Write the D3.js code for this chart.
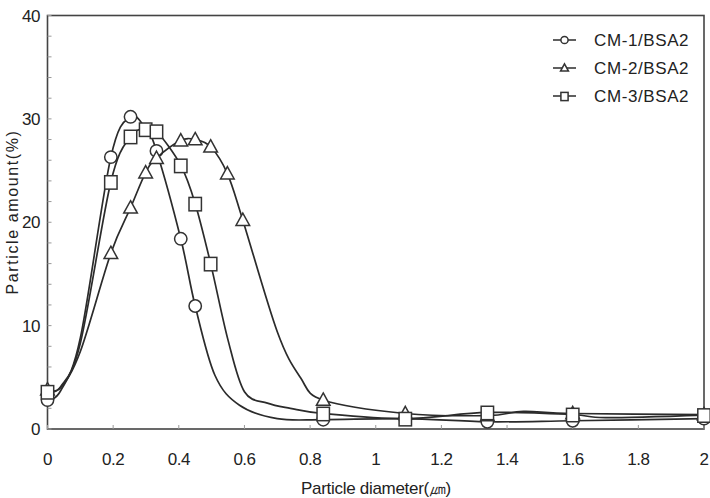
<!DOCTYPE html>
<html>
<head>
<meta charset="utf-8">
<script src="https://cdn.jsdelivr.net/npm/d3@7"></script>
<style>
  body { margin: 0; background: #fff; }
  svg { display: block; }
  text { font-family: "Liberation Sans", Arial, sans-serif; fill: #222; }
</style>
</head>
<body>
<div id="chart"></div>
<script>
// series data (x = particle diameter in um, y = amount in %)
// mark = 1 where the point carries a marker
var cm1X = [0, 0.04, 0.10, 0.193, 0.253, 0.30, 0.332, 0.406, 0.45, 0.51, 0.585, 0.70, 0.84, 1.09, 1.34, 1.6, 2.0];
var cm1Y = [2.8, 3.7, 8.8, 26.3, 30.2, 29.0, 26.9, 18.4, 11.9, 5.2, 2.3, 1.0, 0.9, 1.0, 0.7, 0.8, 1.0];
var cm1Mark = [1, 0, 0, 1, 1, 0, 1, 1, 1, 0, 0, 0, 1, 1, 1, 1, 1];

var cm2X = [0, 0.04, 0.10, 0.193, 0.253, 0.299, 0.332, 0.406, 0.45, 0.497, 0.548, 0.595, 0.70, 0.77, 0.84, 1.09, 1.34, 1.45, 1.6, 2.0];
var cm2Y = [3.8, 4.0, 7.5, 17.0, 21.4, 24.8, 26.2, 27.9, 28.0, 27.3, 24.7, 20.2, 9.4, 5.0, 2.8, 1.5, 1.3, 1.7, 1.5, 1.4];
var cm2Mark = [1, 0, 0, 1, 1, 1, 1, 1, 1, 1, 1, 1, 0, 0, 1, 1, 1, 0, 1, 1];

var cm3X = [0, 0.04, 0.10, 0.193, 0.253, 0.299, 0.332, 0.406, 0.45, 0.497, 0.55, 0.60, 0.67, 0.74, 0.84, 1.09, 1.34, 1.6, 1.7, 2.0];
var cm3Y = [3.6, 4.1, 8.3, 23.9, 28.3, 29.0, 28.8, 25.5, 21.8, 16.0, 8.6, 3.6, 2.5, 2.0, 1.5, 1.0, 1.6, 1.4, 1.1, 1.35];
var cm3Mark = [1, 0, 0, 1, 1, 1, 1, 1, 1, 1, 0, 0, 0, 0, 1, 1, 1, 1, 0, 1];

var seriesNames = ["CM-1/BSA2", "CM-2/BSA2", "CM-3/BSA2"];
var seriesSymbols = ["circle", "triangle", "square"];

var xTicks = [0, 0.2, 0.4, 0.6, 0.8, 1, 1.2, 1.4, 1.6, 1.8, 2];
var xTickLabels = ["0", "0.2", "0.4", "0.6", "0.8", "1", "1.2", "1.4", "1.6", "1.8", "2"];
var yTicks = [0, 10, 20, 30, 40];
var yMinorTicks = d3.range(0, 41, 2);

var W = 710, H = 498;
var plotLeft = 47.5, plotRight = 704, plotTop = 15.5, plotBottom = 429;

var x = d3.scaleLinear().domain([0, 2]).range([plotLeft, plotRight]);
var y = d3.scaleLinear().domain([0, 40]).range([plotBottom, plotTop]);

var svg = d3.select("#chart").append("svg")
  .attr("width", W)
  .attr("height", H);

// frame
svg.append("rect")
  .attr("x", plotLeft).attr("y", plotTop)
  .attr("width", plotRight - plotLeft).attr("height", plotBottom - plotTop)
  .attr("fill", "none")
  .attr("stroke", "#444")
  .attr("stroke-width", 1.6);

// minor ticks on y axis (inside)
svg.append("g").selectAll("line")
  .data(yMinorTicks)
  .enter().append("line")
  .attr("x1", plotLeft).attr("x2", plotLeft + 4)
  .attr("y1", function(d) { return y(d); })
  .attr("y2", function(d) { return y(d); })
  .attr("stroke", "#999").attr("stroke-width", 1);

// x ticks (inside)
svg.append("g").selectAll("line")
  .data(xTicks)
  .enter().append("line")
  .attr("x1", function(d) { return x(d); })
  .attr("x2", function(d) { return x(d); })
  .attr("y1", plotBottom).attr("y2", plotBottom - 4)
  .attr("stroke", "#999").attr("stroke-width", 1);

// tick labels
svg.append("g").selectAll("text")
  .data(xTicks)
  .enter().append("text")
  .attr("x", function(d) { return x(d); })
  .attr("y", 465)
  .attr("text-anchor", "middle")
  .style("font-size", "17px")
  .style("letter-spacing", "-0.5px")
  .text(function(d, i) { return xTickLabels[i]; });

svg.append("g").selectAll("text")
  .data(yTicks)
  .enter().append("text")
  .attr("x", 40)
  .attr("y", function(d) { return y(d) + 6; })
  .attr("text-anchor", "end")
  .style("font-size", "17px")
  .style("letter-spacing", "-0.5px")
  .text(function(d) { return d; });

// axis titles
svg.append("text")
  .attr("x", 376)
  .attr("y", 494)
  .attr("text-anchor", "middle")
  .style("font-size", "17px")
  .style("letter-spacing", "-0.3px")
  .text("Particle diameter(㎛)");

svg.append("text")
  .attr("transform", "translate(18,212)rotate(-90)")
  .attr("text-anchor", "middle")
  .style("font-size", "16px")
  .style("letter-spacing", "1.6px")
  .text("Particle amount(%)");

// marker drawing
function drawMarker(g, type, cx, cy, s) {
  if (type == "circle") {
    g.append("circle").attr("cx", cx).attr("cy", cy).attr("r", s)
      .attr("fill", "#fff").attr("stroke", "#333").attr("stroke-width", 1.5);
  } else if (type == "square") {
    g.append("rect").attr("x", cx - s).attr("y", cy - s)
      .attr("width", 2 * s).attr("height", 2 * s + 1)
      .attr("fill", "#fff").attr("stroke", "#333").attr("stroke-width", 1.5);
  } else {
    var h = s * 1.9;
    g.append("path")
      .attr("d", "M" + cx + "," + (cy - h * 0.6) + "L" + (cx + s * 1.1) + "," + (cy + h * 0.45) +
        "L" + (cx - s * 1.1) + "," + (cy + h * 0.45) + "Z")
      .attr("fill", "#fff").attr("stroke", "#333").attr("stroke-width", 1.5);
  }
}

var line = d3.line()
  .x(function(d) { return x(d.x); })
  .y(function(d) { return y(d.y); })
  .curve(d3.curveCardinal.tension(0));

var allX = [cm1X, cm2X, cm3X];
var allY = [cm1Y, cm2Y, cm3Y];
var allMark = [cm1Mark, cm2Mark, cm3Mark];

allX.forEach(function(xs, s) {
  var pts = xs.map(function(v, i) { return { x: v, y: allY[s][i], m: allMark[s][i] }; });
  var g = svg.append("g");
  g.append("path")
    .datum(pts)
    .attr("d", line)
    .attr("fill", "none")
    .attr("stroke", "#2b2b2b")
    .attr("stroke-width", 1.7);
  pts.filter(function(p) { return p.m; }).forEach(function(p) {
    drawMarker(g, seriesSymbols[s], x(p.x), y(p.y), 6.2);
  });
});

// legend
var legendY = [40, 68, 96];
seriesNames.forEach(function(name, i) {
  var g = svg.append("g");
  g.append("line")
    .attr("x1", 553).attr("x2", 576)
    .attr("y1", legendY[i]).attr("y2", legendY[i])
    .attr("stroke", "#2b2b2b").attr("stroke-width", 1.5);
  drawMarker(g, seriesSymbols[i], 564.5, legendY[i], 3.6);
  g.append("text")
    .attr("x", 594)
    .attr("y", legendY[i] + 6)
    .style("font-size", "17px")
    .style("letter-spacing", "0.6px")
    .text(name);
});
</script>
</body>
</html>
